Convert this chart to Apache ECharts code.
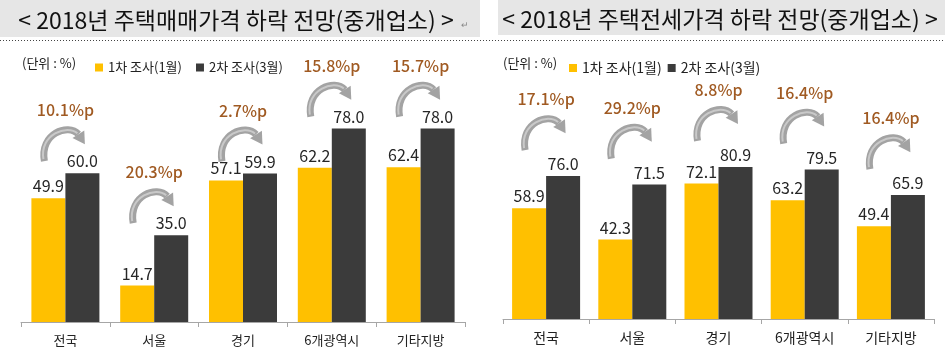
<!DOCTYPE html>
<html>
<head>
<meta charset="utf-8">
<script src="https://cdn.jsdelivr.net/npm/echarts@6/dist/echarts.min.js"></script>
<style>
html,body{margin:0;padding:0;background:#fff;}
#chart{width:945px;height:362px;}
</style>
</head>
<body>
<div id="chart"></div>
<script>
const categories = ['전국', '서울', '경기', '6개광역시', '기타지방'];
const seriesNames = ['1차 조사(1월)', '2차 조사(3월)'];
const saleFirst = [49.9, 14.7, 57.1, 62.2, 62.4];
const saleSecond = [60.0, 35.0, 59.9, 78.0, 78.0];
const saleChange = [10.1, 20.3, 2.7, 15.8, 15.7];
const jeonseFirst = [58.9, 42.3, 72.1, 63.2, 49.4];
const jeonseSecond = [76.0, 71.5, 80.9, 79.5, 65.9];
const jeonseChange = [17.1, 29.2, 8.8, 16.4, 16.4];
const titleSale = '< 2018년 주택매매가격 하락 전망(중개업소) >';
const titleJeonse = '< 2018년 주택전세가격 하락 전망(중개업소) >';
const unitText = '(단위 : %)';

const FONT = '"Noto Sans CJK KR", "Noto Sans", sans-serif';
const YELLOW = '#FFC000';
const DARK = '#3B3B3B';

function arrowRenderer(offset) {
  return function (params, api) {
    const idx = api.value(0);
    const v = api.value(1);
    const chg = api.value(2);
    const p = api.coord([idx, v]);
    const x0 = p[0] - 2 - 23;
    const y0 = p[1] - offset;
    const ex = 38, ey = -27;
    const dx = 0.54, dy = 0.84;
    const px = 0.84, py = -0.54;
    return {
      type: 'group',
      x: x0, y: y0,
      children: [
        {
          type: 'bezierCurve',
          shape: { x1: 4, y1: 0, cpx1: -1, cpy1: -28, cpx2: 28, cpy2: -38, x2: ex, y2: ey },
          style: { stroke: '#A3A3A3', lineWidth: 7, fill: null }
        },
        {
          type: 'bezierCurve',
          shape: { x1: 3, y1: -2, cpx1: -1, cpy1: -27, cpx2: 27, cpy2: -37, x2: ex - 1, y2: ey - 1 },
          style: { stroke: '#C9C9C9', lineWidth: 2, fill: null }
        },
        {
          type: 'polygon',
          shape: { points: [
            [ex + dx * 12, ey + dy * 12],
            [ex + px * 7, ey + py * 7],
            [ex - px * 7, ey - py * 7]
          ] },
          style: { fill: '#A3A3A3' }
        },
        {
          type: 'text',
          x: 25, y: -51,
          style: {
            text: chg.toFixed(1) + '%p',
            fill: '#A05A22',
            font: '500 16px ' + FONT,
            align: 'center',
            verticalAlign: 'middle'
          }
        }
      ]
    };
  };
}

function barSeries(name, data, color, gi) {
  return {
    name: name, type: 'bar', xAxisIndex: gi, yAxisIndex: gi,
    data: data, barWidth: 34, barGap: '0%',
    itemStyle: { color: color },
    label: {
      show: true, position: 'top', distance: 4,
      fontSize: 16, color: '#262626', fontFamily: FONT,
      formatter: (p) => Number(p.value).toFixed(1)
    }
  };
}

function arrowSeries(second, change, gi, offset) {
  return {
    type: 'custom', xAxisIndex: gi, yAxisIndex: gi, z: 5, clip: false,
    silent: true,
    renderItem: arrowRenderer(offset),
    data: categories.map((c, i) => [i, second[i], change[i]]),
    encode: { x: 0, y: 1 }
  };
}

const chart = echarts.init(document.getElementById('chart'), null, { renderer: 'canvas' });
chart.setOption({
  animation: false,
  backgroundColor: '#fff',
  textStyle: { fontFamily: FONT },
  grid: [
    { left: 21, width: 444, top: 74, height: 248 },
    { left: 503, width: 431, top: 131, height: 188 }
  ],
  xAxis: [0, 1].map(gi => ({
    type: 'category', gridIndex: gi, data: categories,
    axisLine: { lineStyle: { color: '#A6A6A6', width: 1 } },
    axisTick: { show: true, length: 5, lineStyle: { color: '#A6A6A6' } },
    axisLabel: { fontSize: gi === 0 ? 13 : 14, color: '#222', margin: 12, fontFamily: FONT }
  })),
  yAxis: [0, 1].map(gi => ({
    type: 'value', gridIndex: gi, min: 0, max: 100, show: false,
    splitLine: { show: false }
  })),
  legend: [
    {
      left: 90, top: 56, icon: 'rect', itemWidth: 8, itemHeight: 8, itemGap: 14,
      data: seriesNames,
      textStyle: { fontSize: 13, color: '#222', fontFamily: FONT }
    },
    {
      left: 564, top: 56, icon: 'rect', itemWidth: 8, itemHeight: 8, itemGap: 6,
      data: seriesNames,
      textStyle: { fontSize: 14, color: '#222', fontFamily: FONT }
    }
  ],
  graphic: [
    { type: 'rect', left: 0, top: 0, shape: { width: 480, height: 37 }, style: { fill: '#E6E6E6' }, z: -1 },
    { type: 'rect', left: 498, top: 0, shape: { width: 447, height: 35 }, style: { fill: '#E6E6E6' }, z: -1 },
    { type: 'text', x: 236, y: 20, style: { text: titleSale, fill: '#111', font: '23px ' + FONT, align: 'center', verticalAlign: 'middle' } },
    { type: 'text', x: 465, y: 25, style: { text: '↵', fill: '#888', font: '9px ' + FONT, align: 'center', verticalAlign: 'middle' } },
    { type: 'text', x: 720, y: 19, style: { text: titleJeonse, fill: '#111', font: '23px ' + FONT, align: 'center', verticalAlign: 'middle' } },
    { type: 'line', shape: { x1: 0, y1: 40.5, x2: 945, y2: 40.5 }, style: { stroke: '#444', lineWidth: 1, lineDash: [1, 2] } },
    { type: 'text', x: 22, y: 63, style: { text: unitText, fill: '#222', font: '13px ' + FONT, verticalAlign: 'middle' } },
    { type: 'text', x: 503, y: 63, style: { text: unitText, fill: '#222', font: '13px ' + FONT, verticalAlign: 'middle' } }
  ],
  series: [
    barSeries(seriesNames[0], saleFirst, YELLOW, 0),
    barSeries(seriesNames[1], saleSecond, DARK, 0),
    arrowSeries(saleSecond, saleChange, 0, 12),
    barSeries(seriesNames[0], jeonseFirst, YELLOW, 1),
    barSeries(seriesNames[1], jeonseSecond, DARK, 1),
    arrowSeries(jeonseSecond, jeonseChange, 1, 26)
  ]
});
</script>
</body>
</html>
